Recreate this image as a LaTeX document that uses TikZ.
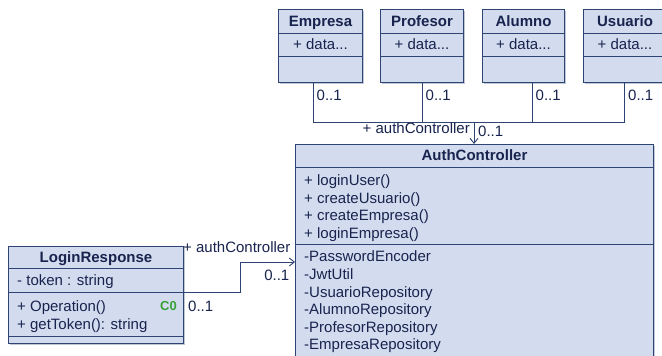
\documentclass[tikz,border=0pt]{standalone}
\usepackage{fontspec}
\setmainfont{Liberation Sans}
\usetikzlibrary{arrows.meta,shadows}
\definecolor{clsfill}{HTML}{D3DCEF}
\definecolor{clsline}{HTML}{2E4573}
\definecolor{ink}{HTML}{18234E}
\definecolor{tagcol}{HTML}{3AA03A}
\begin{document}
\begin{tikzpicture}[x=1pt,y=-1pt,
  classbox/.style={draw=clsline, fill=clsfill, line width=1pt, inner sep=0pt,
    anchor=north west,
    general shadow={fill=clsline!30, shadow xshift=1.3pt, shadow yshift=-1.3pt}},
  sepline/.style={draw=clsline, line width=1pt},
  ttl/.style={font=\bfseries\fontsize{15}{18}\selectfont, text=ink, inner sep=0pt, anchor=base},
  mem/.style={font=\fontsize{15}{18}\selectfont, text=ink, inner sep=0pt, anchor=base west},
  memc/.style={mem, anchor=base},
  lbl/.style={font=\fontsize{15}{18}\selectfont, text=ink, inner sep=0pt, anchor=base west},
  tag/.style={font=\bfseries\fontsize{13}{15}\selectfont, text=tagcol, inner sep=0pt, anchor=base west},
  assoc/.style={draw=clsline, line width=0.9pt},
  navi/.style={assoc, -{Straight Barb[length=5pt,width=8pt]}}
]
\clip (0,0) rectangle (662,356);
\fill[white] (0,0) rectangle (662,356);

% ---- entity classes (top row) ----
\node[classbox, minimum width=84pt, minimum height=73pt] (emp) at (278,9) {};
\node[classbox, minimum width=83pt, minimum height=73pt] (prof) at (380,9) {};
\node[classbox, minimum width=82pt, minimum height=73pt] (alu) at (482,9) {};
\node[classbox, minimum width=83pt, minimum height=73pt] (usu) at (583,9) {};
\foreach \c in {emp,prof,alu,usu}{
  \draw[sepline] ([yshift=-24pt]\c.north west) -- ([yshift=-24pt]\c.north east);
  \draw[sepline] ([yshift=-47pt]\c.north west) -- ([yshift=-47pt]\c.north east);
}
\node[ttl] (empT) at (emp.north |- 0,26) {Empresa};
\node[ttl] (profT) at (prof.north |- 0,26) {Profesor};
\node[ttl] (aluT) at (alu.north |- 0,26) {Alumno};
\node[ttl] (usuT) at (usu.north |- 0,26) {Usuario};
\node[memc] (empA) at (emp.north |- 0,49.5) {+ data...};
\node[memc] (profA) at (prof.north |- 0,49.5) {+ data...};
\node[memc] (aluA) at (alu.north |- 0,49.5) {+ data...};
\node[memc] (usuA) at (usu.north |- 0,49.5) {+ data...};

% ---- AuthController ----
\node[classbox, minimum width=358pt, minimum height=222pt] (auth) at (295,144) {};
\draw[sepline] ([yshift=-23pt]auth.north west) -- ([yshift=-23pt]auth.north east);
\draw[sepline] ([yshift=-100pt]auth.north west) -- ([yshift=-100pt]auth.north east);
\node[ttl] (authT) at (auth.north |- 0,160.7) {AuthController};
\foreach \t [count=\i] in {+ loginUser(),+ createUsuario(),+ createEmpresa(),+ loginEmpresa()}
  \node[mem] (authM\i) at (304,185.5+17.6*\i-17.6) {\t};
\foreach \t [count=\i] in {-PasswordEncoder,-JwtUtil,-UsuarioRepository,-AlumnoRepository,-ProfesorRepository,-EmpresaRepository}
  \node[mem] (authA\i) at (304,261.7+17.65*\i-17.65) {\t};

% ---- LoginResponse ----
\node[classbox, minimum width=175pt, minimum height=97pt] (lr) at (8,246) {};
\draw[sepline] ([yshift=-22pt]lr.north west) -- ([yshift=-22pt]lr.north east);
\draw[sepline] ([yshift=-46pt]lr.north west) -- ([yshift=-46pt]lr.north east);
\draw[sepline] ([yshift=-90pt]lr.north west) -- ([yshift=-90pt]lr.north east);
\node[ttl] (lrT) at (lr.north |- 0,262.3) {LoginResponse};
\node[mem] (lrA) at (17,285.7) {- token : string};
\node[mem] (lrM1) at (17,311) {+ Operation()};
\node[mem] (lrM2) at (17,329.3) {+ getToken(): string};
\node[tag] (lrTag) at (160,310.5) {C0};

% ---- associations from the entity classes ----
\coordinate (j) at (474,122);
\coordinate (empX) at (313,122);
\coordinate (profX) at (422,122);
\coordinate (aluX) at (532,122);
\coordinate (usuX) at (624,122);
\draw[assoc] (empX |- emp.south) -- (empX) -- (j);
\draw[assoc] (profX |- prof.south) -- (profX);
\draw[assoc] (aluX |- alu.south) -- (aluX);
\draw[assoc] (usuX |- usu.south) -- (usuX) -- (j);
\draw[navi] (j) -- (j |- auth.north);
\node[lbl] (empM) at (316.5,100.7) {0..1};
\node[lbl] (profM) at (425.5,100.7) {0..1};
\node[lbl] (aluM) at (535.5,100.7) {0..1};
\node[lbl] (usuM) at (628,100.7) {0..1};
\node[lbl, anchor=base east] (topRole) at (470,133.3) {+ authController};
\node[lbl] (topMult) at (478,136.7) {0..1};

% ---- association from LoginResponse ----
\coordinate (lrOut) at (183,292.5);
\coordinate (bend) at (240,262);
\draw[navi] (lrOut) -| (bend) -- (bend -| auth.west);
\node[lbl] (lrRole) at (183,252) {+ authController};
\node[lbl, anchor=base east] (lrMultR) at (289.5,280.3) {0..1};
\node[lbl] (lrMultL) at (188,311.7) {0..1};
\end{tikzpicture}
\end{document}
